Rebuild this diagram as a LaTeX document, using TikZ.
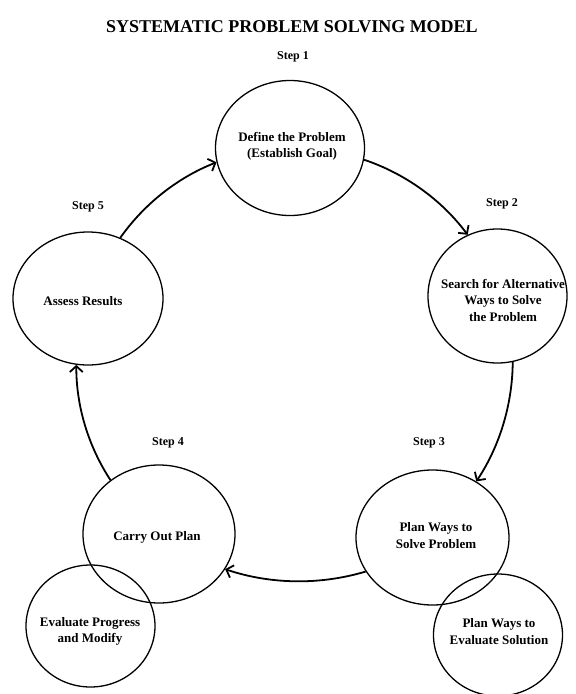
\documentclass[tikz,border=0pt]{standalone}
\usepackage{fontspec}
\setmainfont{Liberation Serif}
\usetikzlibrary{shapes.geometric,arrows.meta}
\begin{document}
\begin{tikzpicture}[x=1pt,y=-1pt,
  bub/.style={ellipse,draw,line width=1.3pt,inner sep=0pt},
  txt/.style={align=center,inner sep=0pt,font=\fontsize{13}{16.5}\selectfont\bfseries},
  steplbl/.style={inner sep=0pt,font=\fontsize{12}{14}\selectfont\bfseries},
  flow/.style={line width=1.8pt,-{Straight Barb[length=6pt,width=13pt]},looseness=0.87}]
\fill[white] (0,0) rectangle (576,694);
\useasboundingbox (0,0) rectangle (576,694);
\node[inner sep=0pt,font=\fontsize{18}{20}\selectfont\bfseries] (title) at (292,27) {SYSTEMATIC PROBLEM SOLVING MODEL};
\node[steplbl] (s1) at (293,57) {Step 1};
\node[steplbl] (s2) at (502,204) {Step 2};
\node[steplbl] (s3) at (429,443) {Step 3};
\node[steplbl] (s4) at (168,443) {Step 4};
\node[steplbl] (s5) at (88,207) {Step 5};
\node[bub,minimum width=149pt,minimum height=135pt] (c1) at (290,148) {};
\node[bub,minimum width=139pt,minimum height=134pt] (c2) at (497.5,296) {};
\node[bub,minimum width=153pt,minimum height=135pt] (c3) at (432.5,537.5) {};
\node[bub,minimum width=152pt,minimum height=138pt] (c4) at (159,534) {};
\node[bub,minimum width=150pt,minimum height=133pt] (c5) at (88,298.5) {};
\node[bub,minimum width=129pt,minimum height=122pt] (e4) at (90.5,626) {};
\node[bub,minimum width=129pt,minimum height=122pt] (e3) at (498,635) {};
\node[txt] (t1) at (292,146.5) {Define the Problem\\(Establish Goal)};
\node[txt] (t2) at (503,300) {Search for Alternative\\Ways to Solve\\the Problem};
\node[txt] (t3) at (436,535.5) {Plan Ways to\\Solve Problem};
\node[txt] (t4) at (157,537) {Carry Out Plan};
\node[txt] (t5) at (83,301) {Assess Results};
\node[txt] (t6) at (90,631.5) {Evaluate Progress\\and Modify};
\node[txt] (t7) at (499,631.5) {Plan Ways to\\Evaluate Solution};
\draw[flow] (c5.62) to[bend left=16.7] (c1.191);
\draw[flow] (c1.-9) to[bend left=17.4] (c2.116);
\draw[flow] (c2.-77) to[bend left=16.5] (c3.52);
\draw[flow] (c3.207) to[bend left=17.6] (c4.-28);
\draw[flow] (c4.132) to[bend left=16.7] (c5.260);
\end{tikzpicture}
\end{document}
